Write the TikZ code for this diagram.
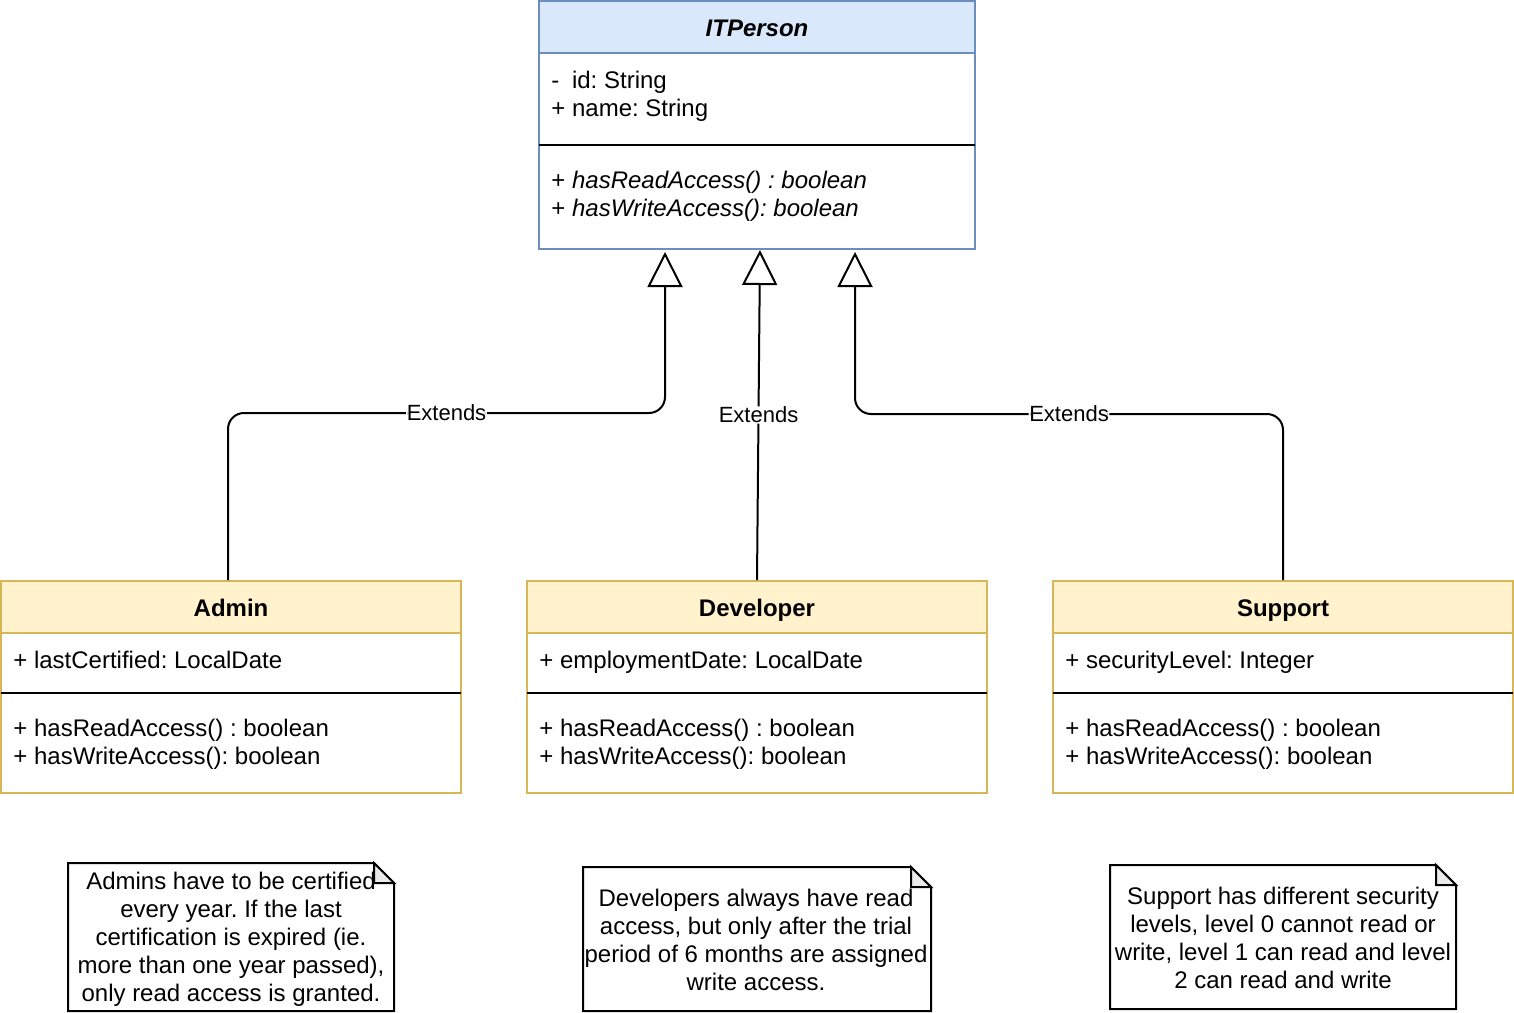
\documentclass[tikz,border=0pt]{standalone}
\usepackage{fontspec}
\setmainfont{Liberation Sans}
\usetikzlibrary{arrows.meta,fit}
\definecolor{bluefill}{HTML}{DAE8FC}
\definecolor{blueline}{HTML}{6C8EBF}
\definecolor{yelfill}{HTML}{FFF2CC}
\definecolor{yelline}{HTML}{D6B656}
\definecolor{foldfill}{HTML}{EBEBEB}
\frenchspacing
\begin{document}
\begin{tikzpicture}[x=0.5pt,y=-0.5pt,
  box/.style={inner sep=0pt, line width=1pt},
  txt/.style={anchor=base west, inner sep=0pt, font=\fontsize{12}{14}\selectfont},
  ttl/.style={anchor=base, inner sep=0pt, font=\fontsize{12}{14}\selectfont\bfseries},
  sepline/.style={line width=1pt},
  ext/.style={line width=1pt, rounded corners=8pt, -{Triangle[open,length=17.5pt,width=17.5pt]}},
  lbl/.style={fill=white, inner sep=0.3pt, font=\fontsize{11}{13}\selectfont},
  notebox/.style={line width=1pt, fill=white},
  notetxt/.style={align=center, inner sep=0pt, font=\fontsize{12}{14}\selectfont}]
\useasboundingbox (0,0) rectangle (1514,1012);

% ITPerson
\node[box, fit={(539,1)(975,249)}, draw=blueline, fill=white] (itp) {};
\node[box, fit={(539,1)(975,53)}, draw=blueline, fill=bluefill] (itph) {};
\draw[sepline] (539,145) -- (975,145);
\node[ttl, font=\fontsize{12}{14}\selectfont\bfseries\itshape] (itpt) at (757,36) {ITPerson};
\node[txt] (itpa1) at (551,88) {\rlap{-}\phantom{+} id: String};
\node[txt] (itpa2) at (551,116) {+ name: String};
\node[txt] (itpm1) at (551,188) {+ \textit{hasReadAccess() : boolean}};
\node[txt] (itpm2) at (551,216) {+ \textit{hasWriteAccess(): boolean}};

% Admin
\node[box, fit={(1,581)(461,793)}, draw=yelline, fill=white] (admin) {};
\node[box, fit={(1,581)(461,633)}, draw=yelline, fill=yelfill] (adminh) {};
\draw[sepline] (1,693) -- (461,693);
\node[ttl] (admint) at (231,616) {Admin};
\node[txt] (admina) at (13,668) {+ lastCertified: LocalDate};
\node[txt] (adminm1) at (13,736) {+ hasReadAccess() : boolean};
\node[txt] (adminm2) at (13,764) {+ hasWriteAccess(): boolean};

% Developer
\node[box, fit={(527,581)(987,793)}, draw=yelline, fill=white] (dev) {};
\node[box, fit={(527,581)(987,633)}, draw=yelline, fill=yelfill] (devh) {};
\draw[sepline] (527,693) -- (987,693);
\node[ttl] (devt) at (757,616) {Developer};
\node[txt] (deva) at (539,668) {+ employmentDate: LocalDate};
\node[txt] (devm1) at (539,736) {+ hasReadAccess() : boolean};
\node[txt] (devm2) at (539,764) {+ hasWriteAccess(): boolean};

% Support
\node[box, fit={(1053,581)(1513,793)}, draw=yelline, fill=white] (sup) {};
\node[box, fit={(1053,581)(1513,633)}, draw=yelline, fill=yelfill] (suph) {};
\draw[sepline] (1053,693) -- (1513,693);
\node[ttl] (supt) at (1283,616) {Support};
\node[txt] (supa) at (1065,668) {+ securityLevel: Integer};
\node[txt] (supm1) at (1065,736) {+ hasReadAccess() : boolean};
\node[txt] (supm2) at (1065,764) {+ hasWriteAccess(): boolean};

% Connectors
\draw[ext] ([xshift=-1.5pt]admin.north) -- ([xshift=-1.5pt]admin.north |- 0,413)
  -- node[lbl] (l1) {Extends} ([xshift=-46pt]itp.south |- 0,413) -- ([xshift=-46pt,yshift=-1pt]itp.south);
\draw[ext] (dev.north) -- node[lbl, pos=0.5] (l2) {Extends} ([xshift=1.5pt]itp.south);
\draw[ext] (sup.north) -- (sup.north |- 0,414)
  -- node[lbl] (l3) {Extends} ([xshift=49pt]itp.south |- 0,414) -- ([xshift=49pt,yshift=-1pt]itp.south);

% Notes
\draw[notebox] (68,863) -- (374,863) -- (394,883) -- (394,1011) -- (68,1011) -- cycle;
\node[notetxt] (n1) at (231,939) {Admins have to be certified\\every year. If the last\\certification is expired (ie.\\more than one year passed),\\only read access is granted.};
\draw[line width=1pt, fill=foldfill] (374,863) -- (374,883) -- (394,883) -- cycle;

\draw[notebox] (583,867) -- (911,867) -- (931,887) -- (931,1011) -- (583,1011) -- cycle;
\draw[line width=1pt, fill=foldfill] (911,867) -- (911,887) -- (931,887) -- cycle;
\node[notetxt] (n2) at (756,940) {Developers always have read\\access, but only after the trial\\period of 6 months are assigned\\write access.};

\draw[notebox] (1110,865) -- (1436,865) -- (1456,885) -- (1456,1009) -- (1110,1009) -- cycle;
\draw[line width=1pt, fill=foldfill] (1436,865) -- (1436,885) -- (1456,885) -- cycle;
\node[notetxt] (n3) at (1283,938) {Support has different security\\levels, level 0 cannot read or\\write, level 1 can read and level\\2 can read and write};
\end{tikzpicture}
\end{document}
